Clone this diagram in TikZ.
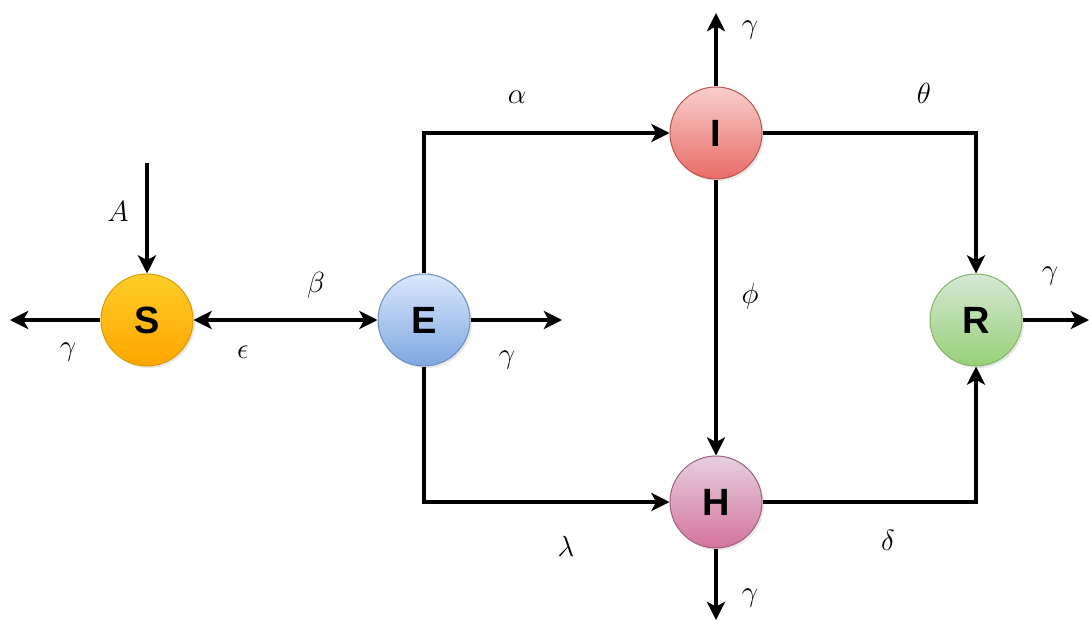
\documentclass[tikz,border=0pt]{standalone}
\usepackage{fontspec}
\setsansfont{Liberation Sans}
\usetikzlibrary{arrows.meta,shadows}
\definecolor{STop} {HTML}{FFCD28}
\definecolor{SBot} {HTML}{FFA500}
\definecolor{SLine}{HTML}{D79B00}
\definecolor{ETop} {HTML}{DAE8FC}
\definecolor{EBot} {HTML}{7EA6E0}
\definecolor{ELine}{HTML}{6C8EBF}
\definecolor{ITop} {HTML}{F8CECC}
\definecolor{IBot} {HTML}{EA6B66}
\definecolor{ILine}{HTML}{B85450}
\definecolor{HTop} {HTML}{E6D0DE}
\definecolor{HBot} {HTML}{D5739D}
\definecolor{HLine}{HTML}{996185}
\definecolor{RTop} {HTML}{D5E8D4}
\definecolor{RBot} {HTML}{97D077}
\definecolor{RLine}{HTML}{82B366}
\tikzset{
  nd_comp/.style={circle,minimum size=2.3cm,inner sep=0pt,line width=0.7pt,font=\fontsize{27}{30}\selectfont\sffamily\bfseries,
    drop shadow={opacity=0.18,shadow xshift=1.5pt,shadow yshift=-1.5pt}},
  nd_s/.style={nd_comp,draw=SLine,top color=STop,bottom color=SBot},
  nd_e/.style={nd_comp,draw=ELine,top color=ETop,bottom color=EBot},
  nd_i/.style={nd_comp,draw=ILine,top color=ITop,bottom color=IBot},
  nd_h/.style={nd_comp,draw=HLine,top color=HTop,bottom color=HBot},
  nd_r/.style={nd_comp,draw=RLine,top color=RTop,bottom color=RBot},
  rate/.style={font=\fontsize{21}{24}\selectfont,inner sep=1pt},
  arr/.style={-{Stealth[length=13pt,width=13pt,inset=3.5pt]},line width=2.2pt},
  arr2/.style={{Stealth[length=13pt,width=13pt,inset=3.5pt]}-{Stealth[length=13pt,width=13pt,inset=3.5pt]},line width=2.2pt},
}

\begin{document}
\begin{tikzpicture}[x=0.025cm,y=-0.025cm]
\useasboundingbox (0,0) rectangle (1089,623);
% compartments
\node[nd_s] at (147,320)(S){S};
\node[nd_e] at (424,320)(E){E};
\node[nd_i] at (716,133)(I){I};
\node[nd_h] at (716,502)(H){H};
\node[nd_r] at (976,320)(R){R};
% free ends
\coordinate (Ain)  at (147,163);
\coordinate (Sout) at (10,320);
\coordinate (Eout) at (562,320);
\coordinate (Iout) at (716,13);
\coordinate (Hout) at (716,620);
\coordinate (Rout) at (1089,320);
% rates
\node[rate] at (118,212)(lA){$A$};
\node[rate] at (68,352)(lgS){$\gamma$};
\node[rate] at (243,352)(leps){$\epsilon$};
\node[rate] at (316,285)(lbeta){$\beta$};
\node[rate] at (507,360)(lgE){$\gamma$};
\node[rate] at (517,97)(lalpha){$\alpha$};
\node[rate] at (750,30)(lgI){$\gamma$};
\node[rate] at (924,93)(ltheta){$\theta$};
\node[rate] at (750,296)(lphi){$\phi$};
\node[rate] at (1050,276)(lgR){$\gamma$};
\node[rate] at (566,546)(llambda){$\lambda$};
\node[rate] at (888,540)(ldelta){$\delta$};
\node[rate] at (750,598)(lgH){$\gamma$};
% arrows
\draw[arr](Ain)--(S);
\draw[arr](S)--(Sout);
\draw[arr2](S)--(E);
\draw[arr](E)--(Eout);
\draw[arr](E.north)|-(I.west);
\draw[arr](E.south)|-(H.west);
\draw[arr](I)--(Iout);
\draw[arr](I)--(H);
\draw[arr](I.east)-|(R.north);
\draw[arr](H.east)-|(R.south);
\draw[arr](H)--(Hout);
\draw[arr](R)--(Rout);
\end{tikzpicture}
\end{document}
